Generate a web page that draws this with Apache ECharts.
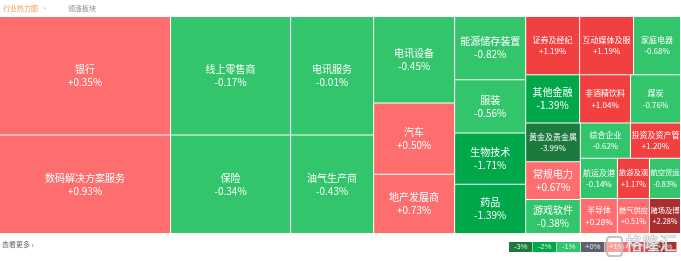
<!DOCTYPE html>
<html><head><meta charset="utf-8">
<script src="https://cdn.jsdelivr.net/npm/echarts@6/dist/echarts.min.js"></script>
<style>html,body{margin:0;padding:0;background:#fff}#c{width:681px;height:261px}</style>
</head><body><div id="c"></div>
<script>
const sectors = ['银行','数码解决方案服务','线上零售商','保险','电讯服务','油气生产商','电讯设备','汽车','地产发展商','能源储存装置','服装','生物技术','药品','证券及经纪','互动媒体及服','家庭电器','其他金融','非酒精饮料','煤炭','黄金及贵金属','常规电力','游戏软件','综合企业','投资及资产管','航运及港','半导体','旅游及观','航空货运','燃气供应','赌场及博'];
const sizes = [20178,16758,14160,11760,9794,8134,6966,5751,4779,4473,3763,3621,3479,3132,3132,2726,2592,2448,2400,2106,2052,1850,1750,1750,1480,1295,1280,1240,1120,1085];
const changes = [0.35,0.93,-0.17,-0.34,-0.01,-0.43,-0.45,0.50,0.73,-0.82,-0.56,-1.71,-1.39,1.19,1.19,-0.68,-1.39,1.04,-0.76,-3.99,0.67,-0.38,-0.62,1.20,-0.14,0.28,1.17,-0.83,0.51,2.28];
const legendLabels = ['-3%','-2%','-1%','+0%','+1%','+2%','+3%'];
const headerTabs = ['行业热力图','领涨板块'];
const moreText = '查看更多 ›';
const watermark = '格隆汇';

// style helpers
const smallLabelNames = new Set(['证券及经纪','互动媒体及服','家庭电器','非酒精饮料','煤炭','黄金及贵金属','综合企业','投资及资产管','航运及港','半导体']);
const tinyLabelNames = new Set(['旅游及观','航空货运','燃气供应','赌场及博']);
function colorFor(v){
  if (v <= -3) return '#1c7a3e';
  if (v <= -1) return '#00a84a';
  if (v < 0) return '#33c56b';
  if (v < 1) return '#ff6e6e';
  if (v < 2) return '#f23f3f';
  return '#a92e2e';
}
const legendColors = ['#1c7a3e','#00a84a','#33c56b','#5b5f6e','#ff6e6e','#f23f3f','#a92e2e'];
const FONT = 'Noto Sans CJK SC';

const data = sectors.map((n,i)=>{
  const fs = tinyLabelNames.has(n) ? 7.3 : (smallLabelNames.has(n) ? 8 : 10);
  return {
    name: n, value: sizes[i], change: changes[i],
    itemStyle: {color: colorFor(changes[i])},
    label: {fontSize: fs, lineHeight: fs >= 10 ? 13 : 11.5}
  };
});

const chart = echarts.init(document.getElementById('c'), null, {renderer:'canvas'});
const graphics = [];
graphics.push({type:'text', left:3, top:5, style:{text: headerTabs[0], fill:'#f39a4c', fontSize:7, fontFamily:FONT}});
graphics.push({type:'text', left:42, top:4, style:{text:'⌄', fill:'#f3b07a', fontSize:7}});
graphics.push({type:'text', left:68, top:5, style:{text: headerTabs[1], fill:'#888', fontSize:7, fontFamily:FONT}});
graphics.push({type:'text', left:2, top:241, style:{text: moreText, fill:'#666', fontSize:7, fontFamily:FONT}});
legendLabels.forEach((t,i)=>{
  graphics.push({type:'group', x: 509 + i*24, y: 242, children:[
    {type:'rect', shape:{x:0,y:0,width:23.4,height:10}, style:{fill: legendColors[i]}},
    {type:'text', x:11.7, y:5, style:{text:t, fill:'rgba(255,255,255,0.85)', fontSize:7.5, align:'center', verticalAlign:'middle'}}
  ]});
});
graphics.push({type:'rect', z:10, shape:{x:607,y:237,width:15,height:19,r:3}, style:{fill:'rgba(255,255,255,0.35)', stroke:'rgba(190,190,190,0.9)', lineWidth:2}});
graphics.push({type:'text', z:10, left:625, top:235, style:{text: watermark, fill:'rgba(255,255,255,0.75)', stroke:'rgba(170,170,170,0.9)', lineWidth:1, fontSize:17, fontFamily:FONT}});

chart.setOption({
  animation:false,
  graphic: graphics,
  series:[{
    type:'treemap',
    left:0, top:17, width:680, height:216,
    roam:false, nodeClick:false,
    breadcrumb:{show:false},
    sort:false,
    squareRatio:1.06,
    levels:[{itemStyle:{gapWidth:1, borderWidth:0, borderColor:'#fff'}},{itemStyle:{borderWidth:0}}],
    label:{show:true, position:'inside', color:'#fff', fontFamily:FONT, overflow:'none', padding:0,
      formatter: p => p.name + '\n' + (p.data.change > 0 ? '+' : '') + p.data.change.toFixed(2) + '%'},
    data: data
  }]
});
</script></body></html>
